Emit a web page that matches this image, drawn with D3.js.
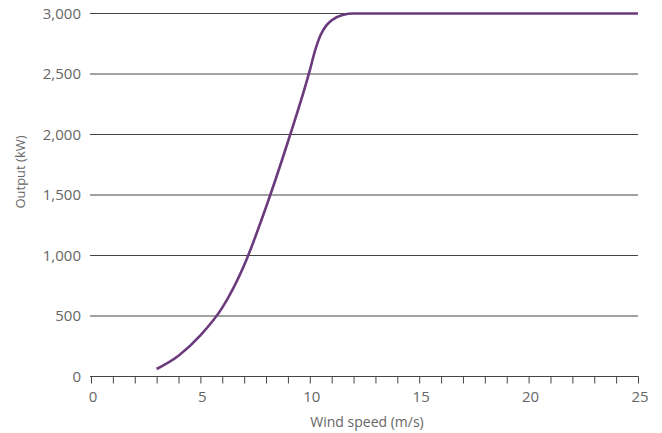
<!DOCTYPE html>
<html><head><meta charset="utf-8">
<script src="https://cdn.jsdelivr.net/npm/d3@7"></script>
<style>
html,body{margin:0;padding:0;background:#fff;}
text{font-family:"Open Sans",sans-serif;fill:#666;}
</style></head>
<body><svg id="c" width="662" height="433"></svg>
<script>
const windSpeed = [3, 4, 5, 6, 7, 8, 9, 10, 10.25, 10.5, 10.75, 11, 11.5, 12, 13, 15, 20, 25];
const outputKW  = [62, 172, 340, 569, 920, 1400, 1940, 2530, 2700, 2825, 2900, 2945, 2988, 3000, 3000, 3000, 3000, 3000];
const xTicks = [0, 5, 10, 15, 20, 25];
const yTicks = [0, 500, 1000, 1500, 2000, 2500, 3000];
const xTitle = "Wind speed (m/s)";
const yTitle = "Output (kW)";

const svg = d3.select("#c");
const x = d3.scaleLinear().domain([0, 25]).range([91, 638]);
const y = d3.scaleLinear().domain([0, 3000]).range([376.5, 13.5]);

// gridlines
svg.append("g").selectAll("line").data(yTicks.filter(d => d > 0)).join("line")
  .attr("x1", 90).attr("x2", 638)
  .attr("y1", d => y(d)).attr("y2", d => y(d))
  .attr("stroke", "#444").attr("stroke-width", 1);

// y labels
svg.append("g").selectAll("text").data(yTicks).join("text")
  .attr("x", 81).attr("y", d => y(d)).attr("dy", "0.36em")
  .attr("text-anchor", "end").style("font-size", "15px")
  .text(d => d3.format(",")(d));

// x axis
const xAxis = d3.axisBottom(x).tickValues(d3.range(0, 26, 1)).tickSize(7).tickFormat("");
const gx = svg.append("g").attr("transform", "translate(0," + y(0) + ")").call(xAxis);
gx.select(".domain").attr("stroke", "#444").attr("d", "M90,0H638.5");
gx.selectAll(".tick line").attr("stroke", "#444");

svg.append("g").selectAll("text").data(xTicks).join("text")
  .attr("x", d => x(d) + 2).attr("y", 402)
  .attr("text-anchor", "middle").style("font-size", "15px")
  .text(d => d);

// titles
svg.append("text").attr("x", 367).attr("y", 427).attr("text-anchor", "middle")
  .style("font-size", "14px").text(xTitle);
svg.append("text").attr("transform", "translate(25,172) rotate(-90)").attr("text-anchor", "middle")
  .style("font-size", "13px").text(yTitle);

// curve
const data = windSpeed.map((w, i) => [w, outputKW[i]]);
const line = d3.line().x(d => x(d[0])).y(d => y(d[1])).curve(d3.curveMonotoneX);
svg.append("path").datum(data).attr("d", line)
  .attr("fill", "none").attr("stroke", "#6b3a7d").attr("stroke-width", 2.6);
</script></body></html>
